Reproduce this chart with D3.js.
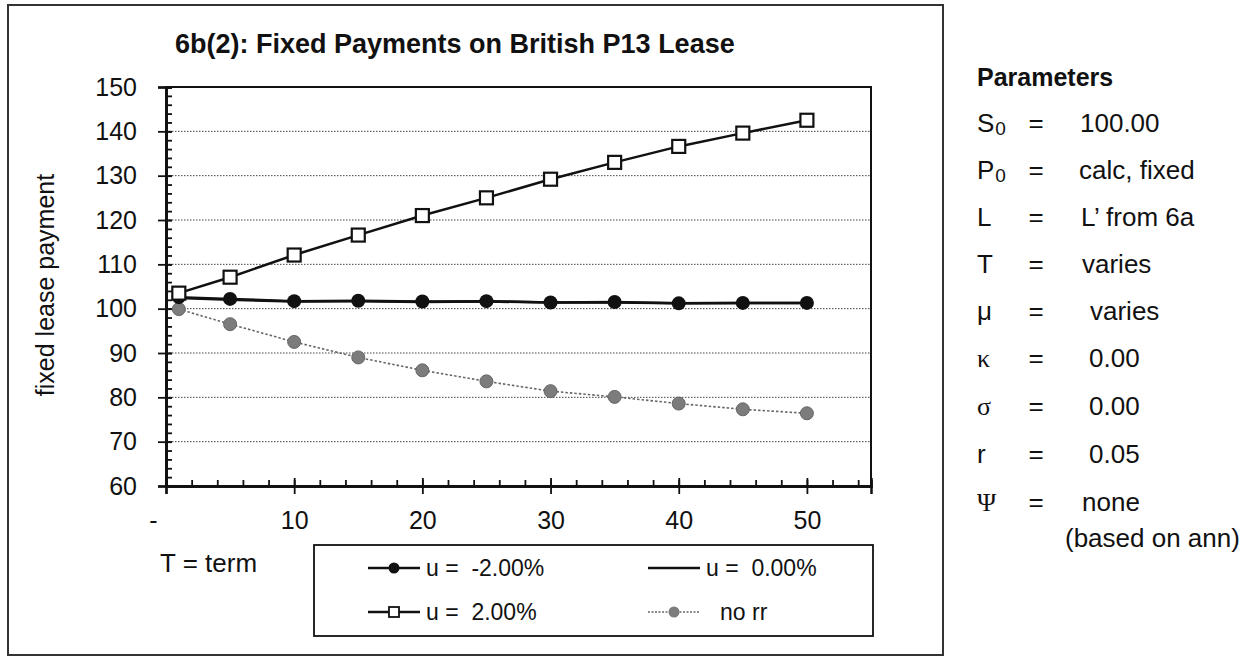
<!DOCTYPE html>
<html>
<head>
<meta charset="utf-8">
<script src="https://cdn.jsdelivr.net/npm/d3@7"></script>
<style>
  body { margin: 0; background: #fff; }
  text { font-family: "Liberation Sans", Arial, sans-serif; fill: #111; }
</style>
</head>
<body>
<div id="vis"></div>
<script>
// chart values
let terms = [1, 5, 10, 15, 20, 25, 30, 35, 40, 45, 50]
let uNeg2 = [102.6, 102.2, 101.7, 101.8, 101.6, 101.7, 101.4, 101.5, 101.2, 101.3, 101.3]
let uZero = [102.4, 102.0, 101.6, 101.7, 101.5, 101.6, 101.4, 101.4, 101.2, 101.3, 101.3]
let uPos2 = [103.5, 107.1, 112.1, 116.6, 121.0, 125.0, 129.2, 133.0, 136.6, 139.6, 142.5]
let noRR  = [99.9, 96.5, 92.5, 89.0, 86.1, 83.6, 81.4, 80.1, 78.6, 77.3, 76.4]

let xMajor = [0, 10, 20, 30, 40, 50]
let yMajor = [60, 70, 80, 90, 100, 110, 120, 130, 140, 150]

let titleText = "6b(2): Fixed Payments on British P13 Lease"
let yLabel = "fixed lease payment"
let xLabel = "T = term"

let seriesNames = ["u =  -2.00%", "u =  0.00%", "u =  2.00%", "no rr"]

let paramSyms = [["S", "0"], ["P", "0"], ["L"], ["T"], ["\u03bc"], ["\u03ba"], ["\u03c3"], ["r"], ["\u03a8"]]
let paramVals = ["100.00", "calc, fixed", "L\u2019 from 6a", "varies", "varies", "0.00", "0.00", "0.05", "none"]

let W = 1253, H = 658
let svg = d3.select("#vis").append("svg")
    .attr("width", W).attr("height", H)

// outer frame
svg.append("rect")
    .attr("x", 8).attr("y", 5).attr("width", 935).attr("height", 650)
    .attr("fill", "none").attr("stroke", "#333").attr("stroke-width", 2)

let plot = {left: 166, right: 871, top: 87, bottom: 486}

let x = d3.scaleLinear().domain([0, 55]).range([plot.left, plot.right])
let y = d3.scaleLinear().domain([60, 150]).range([plot.bottom, plot.top])

// title
svg.append("text")
    .attr("x", 175).attr("y", 53)
    .attr("font-size", 27).attr("font-weight", "bold")
    .text(titleText)

// gridlines
svg.append("g")
    .selectAll("line")
    .data(yMajor.filter(d => d > 60 && d < 150))
    .join("line")
    .attr("x1", plot.left).attr("x2", plot.right)
    .attr("y1", d => y(d)).attr("y2", d => y(d))
    .attr("stroke", "#444").attr("stroke-width", 1)
    .attr("stroke-dasharray", "1.5,1.5")

// plot border (top and right)
svg.append("path")
    .attr("d", `M${plot.left},${plot.top}H${plot.right}V${plot.bottom}`)
    .attr("fill", "none").attr("stroke", "#111").attr("stroke-width", 2)

let yMinor = d3.range(60, 151, 2)
let xMinor = d3.range(0, 56, 2)

// y axis
let gy = svg.append("g").attr("transform", `translate(${plot.left},0)`)
gy.append("g").call(d3.axisLeft(y).tickValues(yMinor).tickSize(-6).tickFormat(""))
gy.append("g").call(d3.axisLeft(y).tickValues(yMajor).tickSize(-6).tickFormat(""))
gy.append("g").call(d3.axisLeft(y).tickValues(yMajor).tickSize(8).tickPadding(21))
gy.selectAll(".domain").attr("stroke-width", 2.5).attr("stroke", "#111")
gy.selectAll(".tick line").attr("stroke-width", 1.8).attr("stroke", "#111")
gy.selectAll("text").attr("font-size", 25).attr("font-family", "Liberation Sans, Arial, sans-serif").attr("fill", "#111")

// x axis
let gx = svg.append("g").attr("transform", `translate(0,${plot.bottom})`)
gx.append("g").call(d3.axisBottom(x).tickValues(xMinor).tickSize(-6).tickFormat(""))
gx.append("g").call(d3.axisBottom(x).tickValues(xMajor).tickSize(-8).tickFormat(""))
gx.append("g").call(d3.axisBottom(x).tickValues(xMajor).tickSize(8).tickPadding(17)
    .tickFormat(d => d === 0 ? "-" : d))
gx.selectAll(".domain").attr("stroke-width", 2.5).attr("stroke", "#111")
gx.selectAll(".tick line").attr("stroke-width", 1.8).attr("stroke", "#111")
gx.selectAll("text").attr("font-size", 25).attr("font-family", "Liberation Sans, Arial, sans-serif").attr("fill", "#111")
gx.selectAll(".tick").filter(d => d === 0).select("text").attr("dx", -13)

// axis labels
svg.append("text")
    .attr("transform", "translate(54,285) rotate(-90)")
    .attr("text-anchor", "middle")
    .attr("font-size", 25)
    .text(yLabel)

svg.append("text")
    .attr("x", 160).attr("y", 572)
    .attr("font-size", 26)
    .text(xLabel)

// series
let line = d3.line().x(d => x(d[0])).y(d => y(d[1]))
let zip = vals => terms.map((t, i) => [t, vals[i]])

let gLines = svg.append("g").attr("fill", "none")

gLines.append("path").attr("d", line(zip(noRR)))
    .attr("stroke", "#666").attr("stroke-width", 1.6).attr("stroke-dasharray", "2.5,2")
gLines.append("path").attr("d", line(zip(uZero)))
    .attr("stroke", "#111").attr("stroke-width", 2.5)
gLines.append("path").attr("d", line(zip(uNeg2)))
    .attr("stroke", "#111").attr("stroke-width", 2.5)
gLines.append("path").attr("d", line(zip(uPos2)))
    .attr("stroke", "#111").attr("stroke-width", 2.5)

svg.append("g").selectAll("circle")
    .data(zip(noRR)).join("circle")
    .attr("cx", d => x(d[0])).attr("cy", d => y(d[1])).attr("r", 6.5)
    .attr("fill", "#7c7c7c").attr("stroke", "#666").attr("stroke-width", 1)

svg.append("g").selectAll("circle")
    .data(zip(uNeg2)).join("circle")
    .attr("cx", d => x(d[0])).attr("cy", d => y(d[1])).attr("r", 7)
    .attr("fill", "#111")

svg.append("g").selectAll("rect")
    .data(zip(uPos2)).join("rect")
    .attr("x", d => x(d[0]) - 6.5).attr("y", d => y(d[1]) - 6.5)
    .attr("width", 13).attr("height", 13)
    .attr("fill", "#fff").attr("stroke", "#111").attr("stroke-width", 2.2)

// legend
let leg = svg.append("g")
leg.append("rect")
    .attr("x", 314).attr("y", 545).attr("width", 559).attr("height", 91)
    .attr("fill", "#fff").attr("stroke", "#111").attr("stroke-width", 1.8)

let legItems = [
    {name: seriesNames[0], lx: 368, ly: 568, tx: 426, kind: "dot"},
    {name: seriesNames[1], lx: 648, ly: 568, tx: 706, kind: "plain"},
    {name: seriesNames[2], lx: 368, ly: 612, tx: 426, kind: "square"},
    {name: seriesNames[3], lx: 648, ly: 612, tx: 720, kind: "grey"}
]
legItems.forEach(it => {
    let g = leg.append("g")
    g.append("line")
        .attr("x1", it.lx).attr("x2", it.lx + 52)
        .attr("y1", it.ly).attr("y2", it.ly)
        .attr("stroke", it.kind === "grey" ? "#666" : "#111")
        .attr("stroke-width", it.kind === "grey" ? 1.4 : 2.5)
        .attr("stroke-dasharray", it.kind === "grey" ? "2,1.5" : null)
    let cx = it.lx + 26
    if (it.kind === "dot") {
        g.append("circle").attr("cx", cx).attr("cy", it.ly).attr("r", 5.5).attr("fill", "#111")
    } else if (it.kind === "square") {
        g.append("rect").attr("x", cx - 5).attr("y", it.ly - 5).attr("width", 10).attr("height", 10)
            .attr("fill", "#fff").attr("stroke", "#111").attr("stroke-width", 1.8)
    } else if (it.kind === "grey") {
        g.append("circle").attr("cx", cx).attr("cy", it.ly).attr("r", 5.5).attr("fill", "#7c7c7c")
    }
    g.append("text")
        .attr("x", it.tx).attr("y", it.ly + 8)
        .attr("font-size", 23)
        .attr("xml:space", "preserve")
        .style("white-space", "pre")
        .text(it.name)
})

// parameters panel
let pp = svg.append("g")
pp.append("text")
    .attr("x", 977).attr("y", 86)
    .attr("font-size", 25).attr("font-weight", "bold")
    .text("Parameters")

let rowY = [123, 170, 217, 264, 311, 358, 406, 454, 502]
let greek = new Set(["\u03ba", "\u03c3", "\u03a8"])
let valX = [1080, 1079, 1081, 1082, 1090, 1089, 1089, 1089, 1082]
paramSyms.forEach((s, i) => {
    let t = pp.append("text")
        .attr("x", 977).attr("y", rowY[i] + 9)
        .attr("font-size", 26)
    if (greek.has(s[0])) t.style("font-family", "Liberation Serif, serif")
    t.append("tspan").text(s[0])
    if (s[1]) t.append("tspan").attr("font-size", 19).attr("dy", 3).attr("dx", 1).text(s[1])
    pp.append("text")
        .attr("x", 1036).attr("y", rowY[i] + 9)
        .attr("font-size", 26).attr("text-anchor", "middle")
        .text("=")
    pp.append("text")
        .attr("x", valX[i]).attr("y", rowY[i] + 9)
        .attr("font-size", 26)
        .text(paramVals[i])
})
pp.append("text")
    .attr("x", 1065).attr("y", 547)
    .attr("font-size", 26)
    .text("(based on ann)")
</script>
</body>
</html>
